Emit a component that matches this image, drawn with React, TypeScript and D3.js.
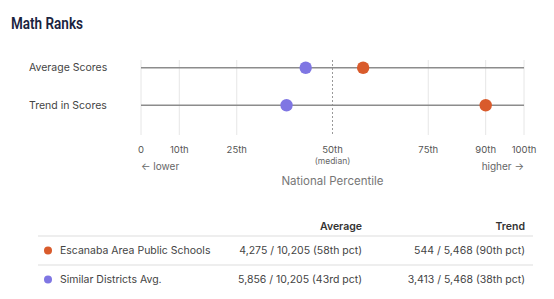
import React from "react";
import { scaleLinear, scaleBand } from "d3";

const categories = ["Average Scores", "Trend in Scores"];
const districtPct = [58, 90];
const similarPct = [43, 38];
const tickValues = [0, 10, 25, 50, 75, 90, 100];
const tickLabels = ["0", "10th", "25th", "50th", "75th", "90th", "100th"];

const seriesNames = ["Escanaba Area Public Schools", "Similar Districts Avg."];
const averageText = ["4,275 / 10,205 (58th pct)", "5,856 / 10,205 (43rd pct)"];
const trendText = ["544 / 5,468 (90th pct)", "3,413 / 5,468 (38th pct)"];

const ORANGE = "#d95b2c";
const PURPLE = "#7f76e3";
const FONT = "Inter, 'Noto Sans', sans-serif";

const App: React.FC = () => {
  const width = 554;
  const height = 299;
  const x = scaleLinear().domain([0, 100]).range([141, 524]);
  const y = scaleBand().domain(categories).range([49, 124]).padding(0);
  const yc = (c: string) => y(c)! + y.bandwidth() / 2;
  const colors = [ORANGE, PURPLE];
  const series = [districtPct, similarPct];

  return (
    <div style={{ position: "absolute", left: 0, top: 0 }}>
      <svg width={width} height={height} style={{ display: "block", fontFamily: FONT }}>
        <rect width={width} height={height} fill="#fff" />
        <text
          x={11}
          y={29}
          fontSize={17}
          fontWeight={600}
          fill="#1a2340"
          textLength={72}
          lengthAdjust="spacingAndGlyphs"
          style={{ fontFamily: "Roboto, sans-serif" }}
        >
          Math Ranks
        </text>

        {tickValues.map((t) =>
          t === 50 ? null : (
            <line key={t} x1={x(t)} x2={x(t)} y1={60} y2={135} stroke="#e6e6e6" strokeWidth={1} />
          )
        )}
        <line x1={x(50)} x2={x(50)} y1={60} y2={135} stroke="#999" strokeWidth={1} strokeDasharray="2,2" />

        {categories.map((c) => (
          <g key={c}>
            <text x={29} y={yc(c)} dy="0.35em" fontSize={10.5} fill="#444">
              {c}
            </text>
            <line x1={x(0)} x2={x(100)} y1={yc(c)} y2={yc(c)} stroke="#8c8c8c" strokeWidth={1.5} />
          </g>
        ))}

        {series.map((vals, si) =>
          categories.map((c, ci) => (
            <circle key={`${si}-${ci}`} cx={x(vals[ci])} cy={yc(c)} r={6.2} fill={colors[si]} />
          ))
        )}

        {tickValues.map((t, i) => (
          <text key={t} x={x(t)} y={153} textAnchor="middle" fontSize={9.5} fill="#555">
            {tickLabels[i]}
          </text>
        ))}
        <text x={x(50)} y={164} textAnchor="middle" fontSize={8.5} fill="#666">
          (median)
        </text>
        <text x={x(0)} y={170} fontSize={10} fill="#666">
          ← lower
        </text>
        <text x={x(100)} y={170} textAnchor="end" fontSize={10} fill="#666">
          higher →
        </text>
        <text x={x(50)} y={185} textAnchor="middle" fontSize={11.5} fill="#777">
          National Percentile
        </text>

        <text x={362} y={230} textAnchor="end" fontSize={10.5} fontWeight={600} fill="#333">
          Average
        </text>
        <text x={525} y={230} textAnchor="end" fontSize={10.5} fontWeight={600} fill="#333">
          Trend
        </text>
        {seriesNames.map((n, i) => {
          const top = 236 + i * 29;
          const cy = top + 14.5;
          return (
            <g key={n}>
              <line x1={38} x2={533} y1={top} y2={top} stroke="#e8e8e8" strokeWidth={1.5} />
              <circle cx={48} cy={cy} r={4} fill={colors[i]} />
              <text x={60} y={cy} dy="0.35em" fontSize={10.5} fill="#444">
                {n}
              </text>
              <text x={362} y={cy} dy="0.35em" textAnchor="end" fontSize={10.5} fill="#444">
                {averageText[i]}
              </text>
              <text x={525} y={cy} dy="0.35em" textAnchor="end" fontSize={10.5} fill="#444">
                {trendText[i]}
              </text>
            </g>
          );
        })}
      </svg>
    </div>
  );
};

export default App;
